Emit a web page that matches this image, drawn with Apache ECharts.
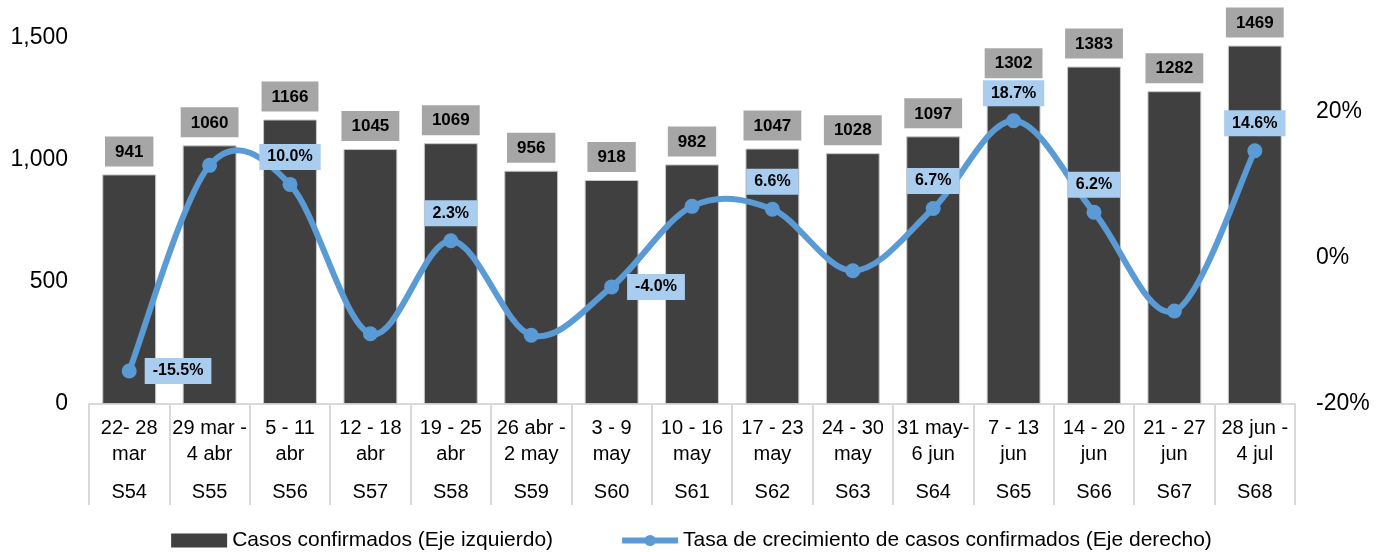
<!DOCTYPE html>
<html>
<head>
<meta charset="utf-8">
<script src="https://cdn.jsdelivr.net/npm/echarts@6/dist/echarts.min.js"></script>
<style>
  html, body { margin: 0; padding: 0; background: #fff; }
  #chart { width: 1383px; height: 552px; }
</style>
</head>
<body>
<div id="chart"></div>
<script>
// semanas epidemiológicas
const weekCodes = ['S54', 'S55', 'S56', 'S57', 'S58', 'S59', 'S60', 'S61', 'S62', 'S63', 'S64', 'S65', 'S66', 'S67', 'S68']
const weekRanges = [
  '22- 28\nmar', '29 mar -\n4 abr', '5 - 11\nabr', '12 - 18\nabr', '19 - 25\nabr',
  '26 abr -\n2 may', '3 - 9\nmay', '10 - 16\nmay', '17 - 23\nmay', '24 - 30\nmay',
  '31 may-\n6 jun', '7 - 13\njun', '14 - 20\njun', '21 - 27\njun', '28 jun -\n4 jul'
]
// casos confirmados (eje izquierdo)
const confirmedCases = [941, 1060, 1166, 1045, 1069, 956, 918, 982, 1047, 1028, 1097, 1302, 1383, 1282, 1469]
// tasa de crecimiento % (eje derecho)
const growthRate = [-15.5, 12.6, 10.0, -10.4, 2.3, -10.6, -4.0, 7.0, 6.6, -1.8, 6.7, 18.7, 6.2, -7.3, 14.6]
// puntos con etiqueta visible
const labeledRates = [0, 2, 4, 6, 8, 10, 11, 12, 14]

const font = '"Liberation Sans", Arial, sans-serif'
const lineColor = '#5b9bd5'
const barName = 'Casos confirmados (Eje izquierdo)'
const rateName = 'Tasa de crecimiento de casos confirmados (Eje derecho)'

// etiquetas a la derecha del punto en vez de arriba
const rightLabels = { 0: 8, 6: 8 }

const rateData = growthRate.map((v, i) => {
  if (!labeledRates.includes(i)) return { value: v, label: { show: false } }
  const item = { value: v }
  if (rightLabels[i] !== undefined) {
    item.label = { show: true, position: 'right', distance: rightLabels[i] }
  }
  return item
})

// curva suavizada tipo Excel (Catmull-Rom), un tramo por punto
const renderCurve = (params, api) => {
  const i = params.dataIndex
  const n = growthRate.length
  if (i >= n - 1) return null
  const pt = k => {
    const j = Math.max(0, Math.min(n - 1, k))
    return api.coord([j, growthRate[j]])
  }
  const p0 = pt(i - 1), p1 = pt(i), p2 = pt(i + 1), p3 = pt(i + 2)
  return {
    type: 'bezierCurve',
    shape: {
      x1: p1[0], y1: p1[1],
      cpx1: p1[0] + (p2[0] - p0[0]) / 6,
      cpy1: p1[1] + (p2[1] - p0[1]) / 6,
      cpx2: p2[0] - (p3[0] - p1[0]) / 6,
      cpy2: p2[1] - (p3[1] - p1[1]) / 6,
      x2: p2[0], y2: p2[1]
    },
    style: { stroke: lineColor, lineWidth: 6, fill: null, lineCap: 'round' }
  }
}

const chart = echarts.init(document.getElementById('chart'))

chart.setOption({
  animation: false,
  textStyle: { fontFamily: font },
  grid: { left: 89, right: 88, top: 38, bottom: 148 },
  legend: {
    top: 525,
    left: 'center',
    itemWidth: 56,
    itemHeight: 14,
    itemGap: 66,
    textStyle: { fontFamily: font, fontSize: 21, color: '#000' },
    data: [
      { name: barName, icon: 'rect', itemStyle: { color: '#404040', borderWidth: 0 } },
      { name: rateName, lineStyle: { color: lineColor, width: 6, opacity: 1 } }
    ]
  },
  xAxis: {
    type: 'category',
    data: weekCodes,
    axisLine: { lineStyle: { color: '#d9d9d9', width: 2 } },
    axisTick: { show: true, interval: 0, length: 101, lineStyle: { color: '#d9d9d9', width: 2 } },
    axisLabel: {
      interval: 0,
      margin: 11,
      formatter: (code, i) => {
        const [a, b] = weekRanges[i].split('\n')
        return `{d|${a}}\n{d|${b}}\n{s|${code}}`
      },
      rich: {
        d: { fontFamily: font, fontSize: 20, lineHeight: 26, color: '#000' },
        s: { fontFamily: font, fontSize: 20, lineHeight: 50, color: '#000' }
      }
    }
  },
  yAxis: [
    {
      type: 'value',
      min: 0,
      max: 1500,
      interval: 500,
      splitLine: { show: false },
      axisLine: { show: false },
      axisTick: { show: false },
      axisLabel: {
        margin: 21,
        fontFamily: font,
        fontSize: 23,
        color: '#000',
        formatter: v => v.toLocaleString('en-US')
      }
    },
    {
      type: 'value',
      min: -20,
      max: 30,
      interval: 20,
      position: 'right',
      splitLine: { show: false },
      axisLine: { show: false },
      axisTick: { show: false },
      axisLabel: {
        margin: 21,
        fontFamily: font,
        fontSize: 23,
        color: '#000',
        showMaxLabel: false,
        formatter: v => v + '%'
      }
    }
  ],
  series: [
    {
      name: barName,
      type: 'bar',
      data: confirmedCases,
      barCategoryGap: '33%',
      itemStyle: { color: '#404040', borderColor: '#c8c8c8', borderWidth: 1 },
      label: {
        show: true,
        position: 'top',
        distance: 8,
        fontFamily: font,
        fontSize: 17,
        fontWeight: 'bold',
        color: '#000',
        backgroundColor: '#a6a6a6',
        padding: [7, 10, 6, 10],
        lineHeight: 17
      }
    },
    {
      name: rateName + ' curve',
      type: 'custom',
      yAxisIndex: 1,
      data: growthRate,
      renderItem: renderCurve,
      z: 4,
      silent: true
    },
    {
      name: rateName,
      type: 'line',
      yAxisIndex: 1,
      data: rateData,
      symbol: 'circle',
      symbolSize: 15,
      z: 5,
      lineStyle: { color: lineColor, width: 6, opacity: 0 },
      itemStyle: { color: lineColor },
      label: {
        show: true,
        position: 'top',
        distance: 7,
        fontFamily: font,
        fontSize: 16,
        fontWeight: 'bold',
        color: '#000',
        backgroundColor: '#a9cdef',
        padding: [5, 8, 5, 8],
        lineHeight: 16,
        formatter: p => p.value.toFixed(1) + '%'
      }
    }
  ]
})
</script>
</body>
</html>
